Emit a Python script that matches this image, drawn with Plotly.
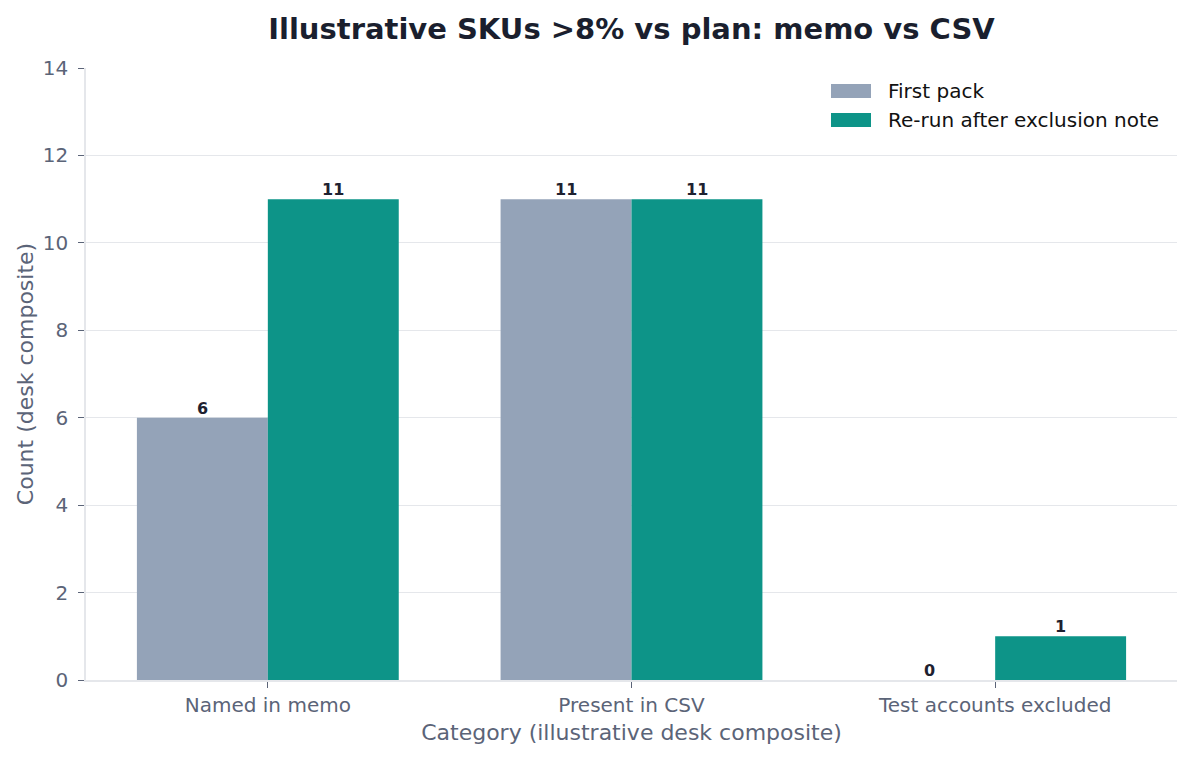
import plotly.graph_objects as go

categories = ["Named in memo", "Present in CSV", "Test accounts excluded"]
first_pack = [6, 11, 0]
rerun = [11, 11, 1]
series_names = ["First pack", "Re-run after exclusion note"]
series_colors = ["#94a3b8", "#0d9488"]

FONT = "DejaVu Sans"
TICK_COLOR = "#5b6478"
GRID = "#e5e7eb"
LABEL_COLOR = "#1e2130"

W, H = 1193, 760
L, R, T, B = 86, 16, 68, 80
pw, ph = W - L - R, H - T - B
BAR_W = 0.36
unit_px = pw / 3.0

fig = go.Figure()
annotations = []
for k, (name, vals, col) in enumerate(zip(series_names, [first_pack, rerun], series_colors)):
    fig.add_trace(go.Bar(
        x=categories, y=vals, name=name,
        marker=dict(color=col, line=dict(width=0)),
        cliponaxis=False, showlegend=False,
    ))
    shift = (k - 0.5) * BAR_W * unit_px
    for c, v in zip(categories, vals):
        annotations.append(dict(
            x=c, y=v, xref="x", yref="y", text=str(v), showarrow=False,
            xanchor="center", yanchor="bottom", xshift=shift, yshift=-2,
            font=dict(family=FONT, size=16, color=LABEL_COLOR, weight="bold"),
        ))

def px_x(x):
    return (x - L) / pw
def px_y(y):
    return 1 - (y - T) / ph

shapes = []
for i, (name, col) in enumerate(zip(series_names, series_colors)):
    yc = 91 + i * 29
    shapes.append(dict(type="rect", xref="paper", yref="paper",
                       x0=px_x(831), x1=px_x(871), y0=px_y(yc + 7), y1=px_y(yc - 7),
                       fillcolor=col, line=dict(width=0), layer="above"))
    annotations.append(dict(xref="paper", yref="paper", x=px_x(886), y=px_y(yc),
                            xanchor="left", yanchor="middle", text=name, showarrow=False,
                            font=dict(family=FONT, size=20, color="#111111")))

fig.update_layout(
    width=W, height=H,
    margin=dict(l=L, r=R, t=T, b=B),
    paper_bgcolor="white", plot_bgcolor="white",
    barmode="group", bargap=1 - 2 * BAR_W, bargroupgap=0,
    font=dict(family=FONT, color=TICK_COLOR),
    title=dict(
        text="<b>Illustrative SKUs >8% vs plan: memo vs CSV</b>",
        x=0.5, xref="paper", xanchor="center", y=1 - 29 / H, yanchor="middle",
        font=dict(family=FONT, size=29, color="#1a1f2e"),
    ),
    shapes=shapes,
    annotations=annotations,
    showlegend=False,
)
fig.update_xaxes(
    range=[-0.5, 2.5],
    showline=True, linecolor=GRID, linewidth=1.5,
    ticks="outside", ticklen=6, tickcolor=TICK_COLOR, tickwidth=1.2,
    ticklabelstandoff=0,
    tickfont=dict(family=FONT, size=20, color=TICK_COLOR),
    title=dict(text="Category (illustrative desk composite)",
               font=dict(family=FONT, size=22, color=TICK_COLOR), standoff=9),
    showgrid=False,
)
fig.update_yaxes(
    range=[0, 14], dtick=2,
    showline=True, linecolor=GRID, linewidth=1.5,
    ticks="outside", ticklen=6, tickcolor=TICK_COLOR, tickwidth=1.2,
    ticklabelstandoff=6,
    tickfont=dict(family=FONT, size=20, color=TICK_COLOR),
    title=dict(text="Count (desk composite)",
               font=dict(family=FONT, size=22, color=TICK_COLOR), standoff=3),
    showgrid=True, gridcolor=GRID, gridwidth=1,
    zeroline=False,
)

fig.write_html("out.html", config={"displayModeBar": False},
               post_script="document.body.style.margin='0';")
